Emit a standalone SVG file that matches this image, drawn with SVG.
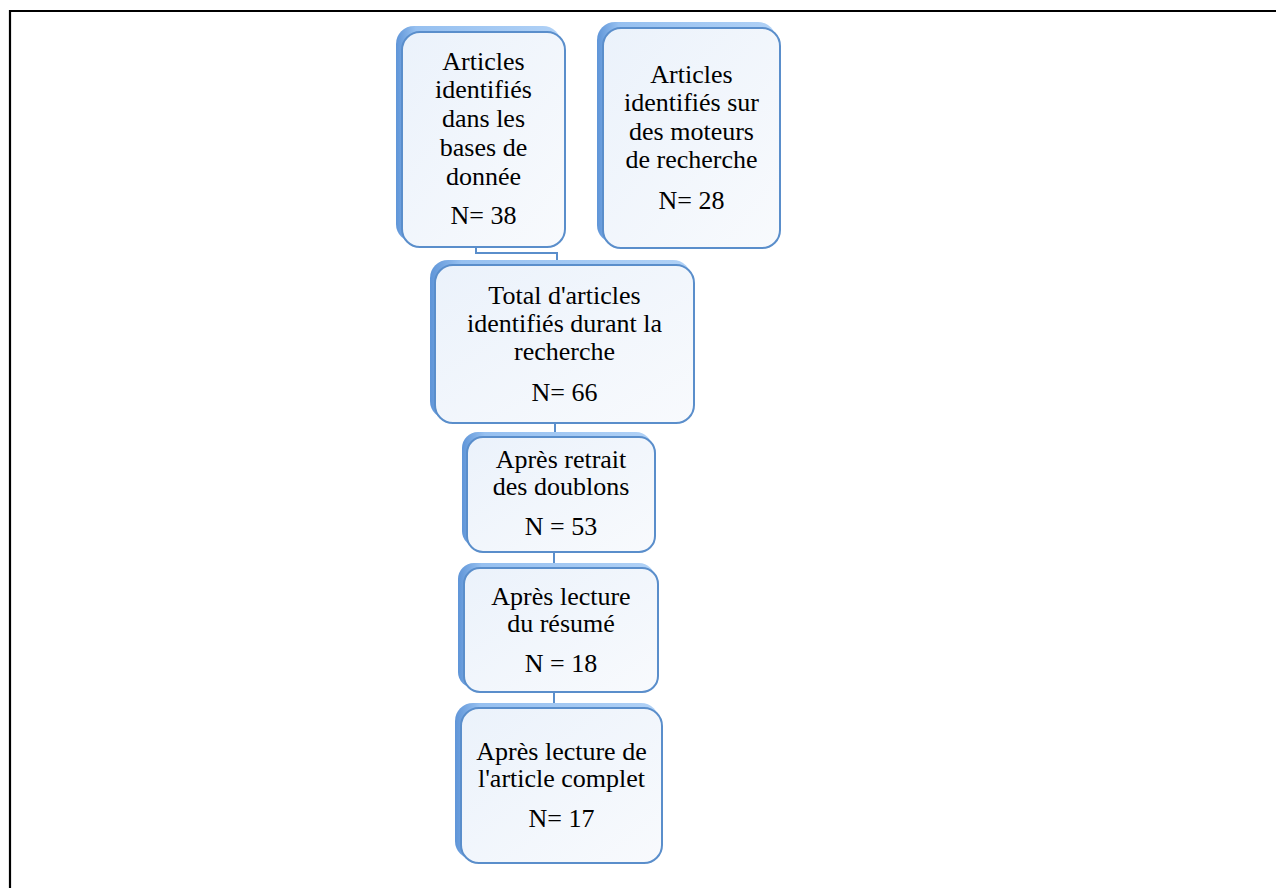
<svg xmlns="http://www.w3.org/2000/svg" width="1276" height="888" viewBox="0 0 1276 888">
<style>
.frame{fill:none;stroke:#000;stroke-width:2.2}
.sh{fill:url(#shg)}
.box{fill:url(#boxg);stroke:#5a8ecb;stroke-width:2}
.lbl{font-family:"Liberation Serif","Times New Roman",serif;font-size:26px;fill:#000;text-anchor:middle}
.conn{fill:none;stroke:#5a8ecb;stroke-width:2}
</style>
<defs>
<linearGradient id="shg" x1="0" y1="0" x2="1" y2="0">
<stop offset="0" stop-color="#5f95d8"/>
<stop offset="0.12" stop-color="#96c0f0"/>
<stop offset="1" stop-color="#b0d1f6"/>
</linearGradient>
<linearGradient id="boxg" x1="0" y1="0" x2="1" y2="1">
<stop offset="0" stop-color="#ebf2fb"/>
<stop offset="1" stop-color="#f8fafd"/>
</linearGradient>
</defs>
<rect width="1276" height="888" fill="#fff"/>
<path class="frame" d="M10 888 V11 H1276"/>
<g id="connectors">
<path class="conn" d="M476 248 V253 H557 V265"/>
<path class="conn" d="M555 423 V437"/>
<path class="conn" d="M554 552 V568"/>
<path class="conn" d="M554 692 V708"/>
</g>
<g id="n1">
<rect class="sh" x="396" y="26" width="165" height="216" rx="18"/>
<rect class="box" x="402" y="32" width="163" height="215" rx="18"/>
<text class="lbl" x="483.5" y="70">Articles</text>
<text class="lbl" x="483.5" y="98">identifiés</text>
<text class="lbl" x="483.5" y="127">dans les</text>
<text class="lbl" x="483.5" y="156">bases de</text>
<text class="lbl" x="483.5" y="185">donnée</text>
<text class="lbl" x="483.5" y="224">N= 38</text>
</g>
<g id="n2">
<rect class="sh" x="597" y="22" width="179" height="221" rx="18"/>
<rect class="box" x="603" y="28" width="177" height="220" rx="18"/>
<text class="lbl" x="691.5" y="83">Articles</text>
<text class="lbl" x="691.5" y="111">identifiés sur</text>
<text class="lbl" x="691.5" y="140">des moteurs</text>
<text class="lbl" x="691.5" y="168">de recherche</text>
<text class="lbl" x="691.5" y="209">N= 28</text>
</g>
<g id="n3">
<rect class="sh" x="430" y="260" width="261" height="159" rx="18"/>
<rect class="box" x="435" y="265" width="259" height="158" rx="18"/>
<text class="lbl" x="564.5" y="304">Total d'articles</text>
<text class="lbl" x="564.5" y="332">identifiés durant la</text>
<text class="lbl" x="564.5" y="360">recherche</text>
<text class="lbl" x="564.5" y="401">N= 66</text>
</g>
<g id="n4">
<rect class="sh" x="462" y="432" width="190" height="115" rx="16"/>
<rect class="box" x="467" y="437" width="188" height="115" rx="16"/>
<text class="lbl" x="561" y="468">Après retrait</text>
<text class="lbl" x="561" y="495">des doublons</text>
<text class="lbl" x="561" y="535">N = 53</text>
</g>
<g id="n5">
<rect class="sh" x="458" y="563" width="197" height="125" rx="16"/>
<rect class="box" x="464" y="568" width="194" height="124" rx="16"/>
<text class="lbl" x="561" y="605">Après lecture</text>
<text class="lbl" x="561" y="632">du résumé</text>
<text class="lbl" x="561" y="672">N = 18</text>
</g>
<g id="n6">
<rect class="sh" x="455" y="703" width="204" height="156" rx="18"/>
<rect class="box" x="461" y="708" width="201" height="155" rx="18"/>
<text class="lbl" x="561.5" y="760">Après lecture de</text>
<text class="lbl" x="561.5" y="787">l'article complet</text>
<text class="lbl" x="561.5" y="827">N= 17</text>
</g>
</svg>
